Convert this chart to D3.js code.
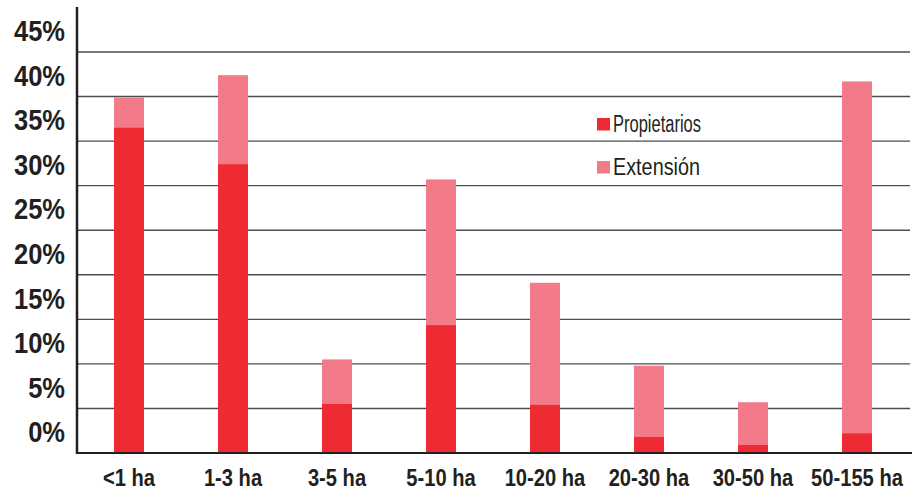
<!DOCTYPE html>
<html>
<head>
<meta charset="utf-8">
<script src="https://cdn.jsdelivr.net/npm/d3@7"></script>
<style>
  html, body { margin: 0; padding: 0; background: #fff; }
  svg { display: block; }
</style>
</head>
<body>
<svg id="chart" width="912" height="491"></svg>
<script>
const categories = ["<1 ha", "1-3 ha", "3-5 ha", "5-10 ha", "10-20 ha", "20-30 ha", "30-50 ha", "50-155 ha"];
const propietarios = [36.5, 32.4, 5.5, 14.35, 5.4, 1.8, 0.9, 2.2];
const extension = [39.9, 42.4, 10.5, 30.7, 19.1, 9.8, 5.7, 41.7];
const yTicks = [0, 5, 10, 15, 20, 25, 30, 35, 40, 45];
const seriesNames = ["Propietarios", "Extensión"];

(function () {
const colors = { prop: "#ee2a33", ext: "#f27a89" };
const fam = "'Liberation Sans', Arial, sans-serif";

const svg = d3.select("#chart");
const mLeft = 77, mRight = 909, mBottom = 453, mTop = 52;

const x = d3.scaleBand().domain(categories).range([mLeft, mRight]).paddingInner(0.712).paddingOuter(0.356);
const y = d3.scaleLinear().domain([0, 45]).range([mBottom, mTop]);

// gridlines
svg.append("g").selectAll("line").data(yTicks.filter(d => d > 0)).join("line")
  .attr("x1", mLeft).attr("x2", 910)
  .attr("y1", d => y(d)).attr("y2", d => y(d))
  .attr("stroke", "#4d4d4d").attr("stroke-width", 1.4);

// y tick labels (placed between gridlines, as in reference)
svg.append("g").selectAll("text").data(yTicks).join("text")
  .attr("transform", d => `translate(65,${y(d) - 21}) scale(0.85,1)`)
  .attr("text-anchor", "end").attr("dominant-baseline", "central")
  .attr("font-family", fam).attr("font-weight", "bold")
  .attr("font-size", 30).attr("fill", "#231f20")
  .text(d => d + "%");

// bars: extension behind, propietarios in front
const bw = x.bandwidth();
svg.append("g").selectAll("rect").data(categories).join("rect")
  .attr("x", d => x(d)).attr("width", bw)
  .attr("y", (d, i) => y(extension[i]))
  .attr("height", (d, i) => mBottom - y(extension[i]))
  .attr("fill", colors.ext);
svg.append("g").selectAll("rect").data(categories).join("rect")
  .attr("x", d => x(d)).attr("width", bw)
  .attr("y", (d, i) => y(propietarios[i]))
  .attr("height", (d, i) => mBottom - y(propietarios[i]))
  .attr("fill", colors.prop);

// axes lines
svg.append("line").attr("x1", mLeft).attr("x2", 912).attr("y1", mBottom).attr("y2", mBottom)
  .attr("stroke", "#231f20").attr("stroke-width", 2.2);
svg.append("line").attr("x1", mLeft).attr("x2", mLeft).attr("y1", 7).attr("y2", mBottom + 1)
  .attr("stroke", "#231f20").attr("stroke-width", 2.5);

// x labels
svg.append("g").selectAll("text").data(categories).join("text")
  .attr("transform", d => `translate(${x(d) + bw / 2},486) scale(0.84,1)`)
  .attr("text-anchor", "middle")
  .attr("font-family", fam).attr("font-weight", "bold")
  .attr("font-size", 24).attr("fill", "#231f20")
  .text(d => d);

// legend
const legend = svg.append("g");
const legItems = [
  { name: seriesNames[0], color: colors.prop, base: 131.5, len: 88 },
  { name: seriesNames[1], color: colors.ext, base: 174.5, len: 87 }
];
legend.selectAll("rect").data(legItems).join("rect")
  .attr("x", 597).attr("y", d => d.base - 13.5).attr("width", 13).attr("height", 12.5)
  .attr("fill", d => d.color);
legend.selectAll("text").data(legItems).join("text")
  .attr("x", 613).attr("y", d => d.base)
  .attr("textLength", d => d.len).attr("lengthAdjust", "spacingAndGlyphs")
  .attr("font-family", fam)
  .attr("font-size", 23).attr("fill", "#231f20")
  .text(d => d.name);
})();
</script>
</body>
</html>
